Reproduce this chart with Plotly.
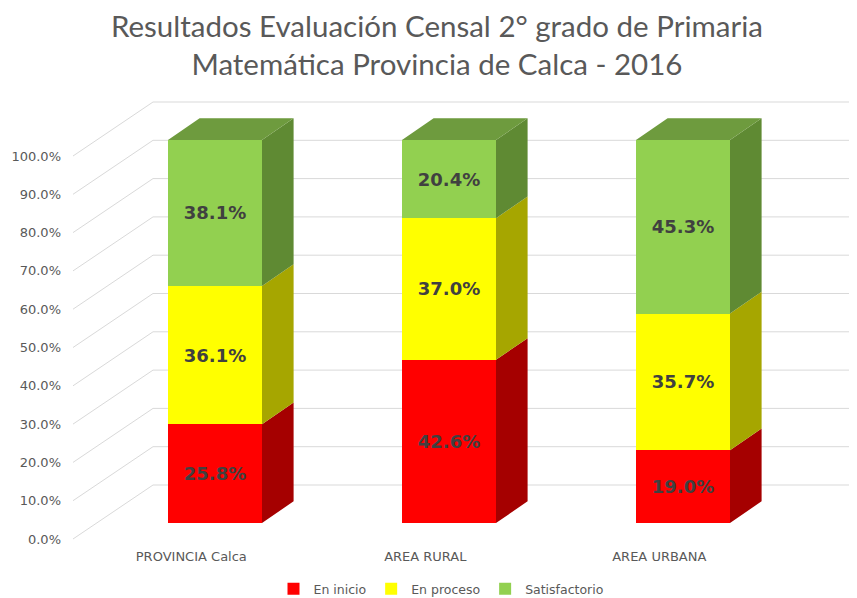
import plotly.graph_objects as go

categories = ['PROVINCIA Calca', 'AREA RURAL', 'AREA URBANA']
series_names = ['En inicio', 'En proceso', 'Satisfactorio']
en_inicio = [25.8, 42.6, 19.0]
en_proceso = [36.1, 37.0, 35.7]
satisfactorio = [38.1, 20.4, 45.3]
y_ticks = [0, 10, 20, 30, 40, 50, 60, 70, 80, 90, 100]
title_text = 'Resultados Evaluación Censal 2° grado de Primaria<br>Matemática Provincia de Calca - 2016'

FRONT = ['#FF0000', '#FFFF00', '#92D050']
SIDE = ['#A50000', '#A6A600', '#5F8A33']
TOP = '#6E9B3E'
GRID = '#D9D9D9'
TEXT = '#595959'

# page puts the plot 8px in from the corner, so the figure is that much smaller
PAGE_OFF = 8
W, H = 857 - PAGE_OFF, 598 - PAGE_OFF
# plot area in screen pixels
L, R, T, B = 62, 857, 95, 545

# pixel geometry of the excel 3d look (bar front plane is the data plane)
PX_U = 234.0      # px per category
PX_V = 3.83       # px per percent
BAR_W = 94 / PX_U
BDX, BDY = 31.6 / PX_U, 21.7 / PX_V          # bar depth
FDX, FDY = -23.7 / PX_U, -16.0 / PX_V         # front plane offset
WDY = FDY + 54 / PX_V                         # back wall offset
X0 = 215.0        # screen px of first category centre
Y0 = 523.0        # screen px of 0% on bar fronts

u_min = (L - X0) / PX_U
u_max = (R - X0) / PX_U
v_max = (Y0 - T) / PX_V
v_min = (Y0 - B) / PX_V
u_front_left = (73 - X0) / PX_U
u_wall_left = u_front_left + 80 / PX_U

series = [en_inicio, en_proceso, satisfactorio]
xs = list(range(len(categories)))

fig = go.Figure()

for name, vals, col in zip(series_names, series, FRONT):
    fig.add_trace(go.Bar(
        x=xs, y=vals, name=name, width=BAR_W,
        marker=dict(color=col, line=dict(width=0)),
        text=[f'{v:.1f}%' for v in vals], textposition='inside',
        insidetextanchor='middle', textangle=0,
        textfont=dict(family='DejaVu Sans', size=18, color='#404040', weight='bold'),
        hoverinfo='skip'))

# side faces (and top face of the last segment)
bottoms = [0.0] * len(xs)
for vals, col in zip(series, SIDE):
    px, py = [], []
    for i, v in enumerate(vals):
        b, t = bottoms[i], bottoms[i] + v
        xr = i + BAR_W / 2
        px += [xr, xr + BDX, xr + BDX, xr, xr, None]
        py += [b, b + BDY, t + BDY, t, b, None]
        bottoms[i] = t
    fig.add_trace(go.Scatter(x=px, y=py, mode='lines', fill='toself', fillcolor=col,
                             line=dict(width=0, color=col), hoverinfo='skip', showlegend=False))

px, py = [], []
for i, t in enumerate(bottoms):
    xl, xr = i - BAR_W / 2, i + BAR_W / 2
    px += [xl, xl + BDX, xr + BDX, xr, xl, None]
    py += [t, t + BDY, t + BDY, t, t, None]
fig.add_trace(go.Scatter(x=px, y=py, mode='lines', fill='toself', fillcolor=TOP,
                         line=dict(width=0, color=TOP), hoverinfo='skip', showlegend=False))

# back wall gridlines with the diagonal floor lines
shapes = []
for t in y_ticks:
    shapes.append(dict(type='line', xref='x', yref='y', layer='below',
                       x0=u_front_left, y0=t + FDY, x1=u_wall_left, y1=t + WDY,
                       line=dict(color=GRID, width=1)))
    shapes.append(dict(type='line', xref='x', yref='y', layer='below',
                       x0=u_wall_left, y0=t + WDY, x1=u_max, y1=t + WDY,
                       line=dict(color=GRID, width=1)))

fig.add_annotation(text=title_text, xref='paper', yref='paper',
                   x=(437 - L) / (R - L), y=(B - 45) / (B - T),
                   xanchor='center', yanchor='middle', showarrow=False,
                   font=dict(family='Lato', size=29.5, color=TEXT))

fig.update_layout(
    width=W, height=H,
    margin=dict(l=L - PAGE_OFF, r=857 - R, t=T - PAGE_OFF, b=598 - B),
    paper_bgcolor='white', plot_bgcolor='white',
    barmode='stack', shapes=shapes,
    xaxis=dict(range=[u_min, u_max], tickvals=[i + FDX for i in xs], ticktext=categories,
               showgrid=False, zeroline=False, showline=False, ticks='', ticklabelstandoff=2,
               tickfont=dict(family='DejaVu Sans', size=13, color=TEXT)),
    yaxis=dict(range=[v_min, v_max], tickvals=[t + FDY for t in y_ticks],
               ticktext=[f'{t:.1f}%' for t in y_ticks],
               showgrid=False, zeroline=False, showline=False, ticks='',
               tickfont=dict(family='DejaVu Sans', size=13, color=TEXT)),
    legend=dict(orientation='h', traceorder='normal',
                x=(441 - PAGE_OFF) / W, xref='container', xanchor='center',
                y=1 - (589 - PAGE_OFF) / H, yref='container', yanchor='middle',
                font=dict(family='DejaVu Sans', size=12.5, color=TEXT), itemwidth=30),
    showlegend=True,
)

fig.write_html('out.html')
